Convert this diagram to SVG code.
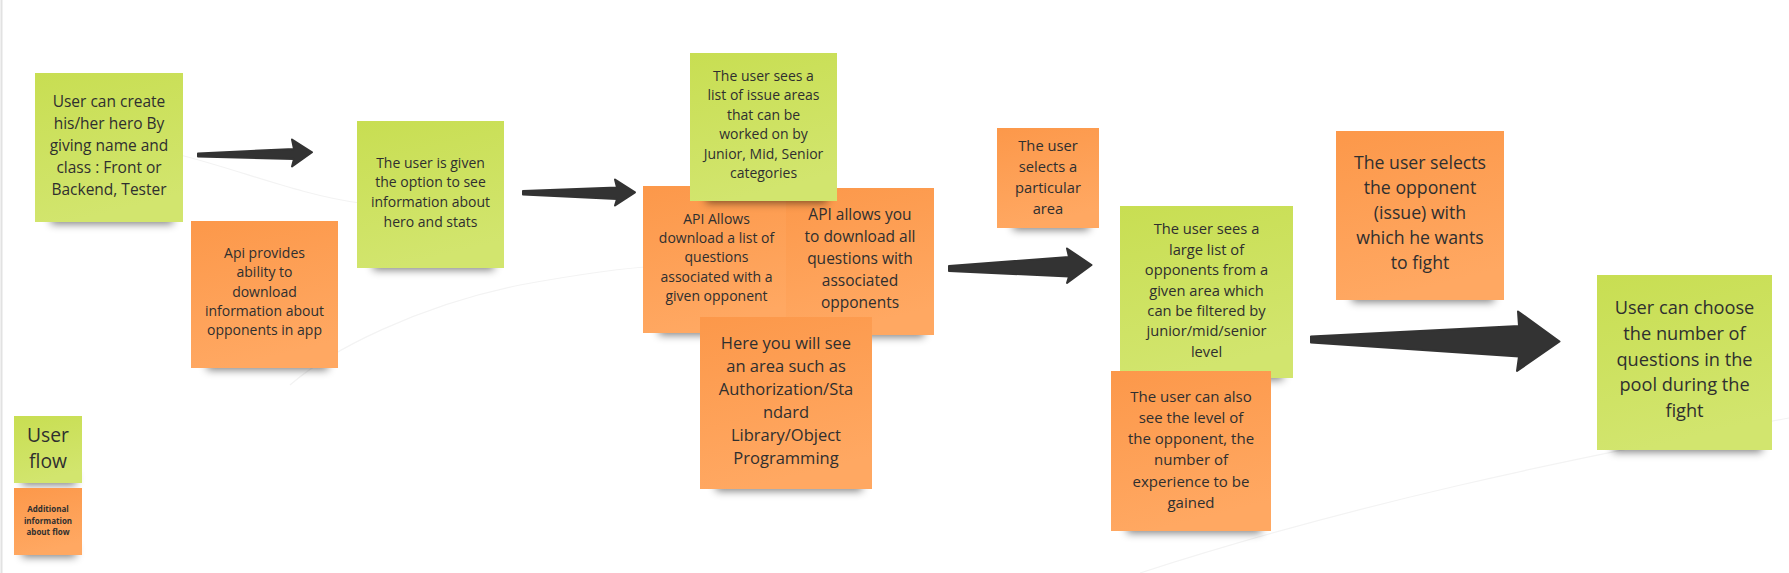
<svg xmlns="http://www.w3.org/2000/svg" width="1789" height="573" viewBox="0 0 1789 573">
<defs>
<linearGradient id="gG" x1="0" y1="0" x2="0.25" y2="1"><stop offset="0" stop-color="#c8de52"/><stop offset="1" stop-color="#d2e56e"/></linearGradient>
<linearGradient id="gO" x1="0" y1="0" x2="0.25" y2="1"><stop offset="0" stop-color="#fc984a"/><stop offset="1" stop-color="#ffa862"/></linearGradient>
<filter id="sh" x="-20%" y="-100%" width="140%" height="300%"><feGaussianBlur stdDeviation="4.5"/></filter>
<style>
.g{fill:url(#gG)}
.o{fill:url(#gO)}
.s{fill:#000;opacity:.5;filter:url(#sh)}
text{font-family:"Open Sans","Noto Sans","Liberation Sans",sans-serif;fill:#2f2f2f;text-anchor:middle}
.arr{fill:#333;stroke:#333;stroke-width:2;stroke-linejoin:round}
.bg{fill:none;stroke:#f3f3f3;stroke-width:1.2}
</style>
</defs>
<rect width="1789" height="573" fill="#fff"/>
<line x1="1.5" y1="0" x2="1.5" y2="573" stroke="#e2e2e2" stroke-width="2"/>
<g id="background-lines">
<path class="bg" d="M180 155 C240 170 300 195 360 203"/>
<path class="bg" d="M290 385 C330 350 420 305 520 285 C580 274 620 268 660 266"/>
<path class="bg" d="M1140 573 C1350 505 1560 460 1789 418"/>
</g>
<g id="connectors">
<path class="arr" d="M198 153.5 L294 149 L292 139.5 L312 152.3 L292 166.5 L294 159 L198 156.5 Z"/>
<path class="arr" d="M523 191 L617 187.5 L615 179.5 L635 192.3 L615 205.5 L617 199 L523 194.5 Z"/>
<path class="arr" d="M949 266 L1069 257 L1067 248.5 L1091.5 265 L1067 283 L1069 276.5 L949 271 Z"/>
<path class="arr" d="M1311 336.5 L1519 326 L1518 311.5 L1559.5 341.5 L1517 371 L1519 356.5 L1311 342.5 Z"/>
</g>
<g id="note-create-hero">
<rect class="s" x="51" y="208" width="122" height="16"/>
<rect class="g" x="35" y="73" width="148" height="149"/>
<text font-size="15.5"><tspan x="109" y="107.3">User can create</tspan><tspan x="109" y="129.1">his/her hero By</tspan><tspan x="109" y="150.9">giving name and</tspan><tspan x="109" y="172.7">class : Front or</tspan><tspan x="109" y="194.5">Backend, Tester</tspan></text>
</g>
<g id="note-api-opponents">
<rect class="s" x="207" y="354" width="121" height="16"/>
<rect class="o" x="191" y="221" width="147" height="147"/>
<text font-size="14"><tspan x="264.5" y="257.7">Api provides</tspan><tspan x="264.5" y="277.1">ability to</tspan><tspan x="264.5" y="296.5">download</tspan><tspan x="264.5" y="315.9">information about</tspan><tspan x="264.5" y="335.3">opponents in app</tspan></text>
</g>
<g id="note-hero-stats">
<rect class="s" x="373" y="254" width="121" height="16"/>
<rect class="g" x="357" y="121" width="147" height="147"/>
<text font-size="14"><tspan x="430.5" y="167.7">The user is given</tspan><tspan x="430.5" y="187.3">the option to see</tspan><tspan x="430.5" y="206.9">information about</tspan><tspan x="430.5" y="226.5">hero and stats</tspan></text>
</g>
<g id="note-api-questions">
<rect class="s" x="659" y="319" width="121" height="16"/>
<rect class="o" x="643" y="186" width="147" height="147"/>
<text font-size="14"><tspan x="716.5" y="223.7">API Allows</tspan><tspan x="716.5" y="243">download a list of</tspan><tspan x="716.5" y="262.3">questions</tspan><tspan x="716.5" y="281.6">associated with a</tspan><tspan x="716.5" y="300.9">given opponent</tspan></text>
</g>
<g id="note-api-all-questions">
<rect class="s" x="802" y="321" width="122" height="16"/>
<rect class="o" x="786" y="188" width="148" height="147"/>
<text font-size="15.5"><tspan x="860" y="220">API allows you</tspan><tspan x="860" y="242">to download all</tspan><tspan x="860" y="264">questions with</tspan><tspan x="860" y="286">associated</tspan><tspan x="860" y="308">opponents</tspan></text>
</g>
<g id="note-issue-areas">
<rect class="s" x="706" y="187" width="121" height="16"/>
<rect class="g" x="690" y="53" width="147" height="148"/>
<text font-size="14"><tspan x="763.5" y="80.7">The user sees a</tspan><tspan x="763.5" y="100.2">list of issue areas</tspan><tspan x="763.5" y="119.7">that can be</tspan><tspan x="763.5" y="139.2">worked on by</tspan><tspan x="763.5" y="158.7">Junior, Mid, Senior</tspan><tspan x="763.5" y="178.2">categories</tspan></text>
</g>
<g id="note-area-example">
<rect class="s" x="716" y="475" width="146" height="16"/>
<rect class="o" x="700" y="317" width="172" height="172"/>
<text font-size="16.5"><tspan x="786" y="348.7">Here you will see</tspan><tspan x="786" y="371.8">an area such as</tspan><tspan x="786" y="394.9">Authorization/Sta</tspan><tspan x="786" y="418">ndard</tspan><tspan x="786" y="441.1">Library/Object</tspan><tspan x="786" y="464.2">Programming</tspan></text>
</g>
<g id="note-select-area">
<rect class="s" x="1013" y="214" width="76" height="16"/>
<rect class="o" x="997" y="128" width="102" height="100"/>
<text font-size="14.7"><tspan x="1048" y="150.7">The user</tspan><tspan x="1048" y="171.7">selects a</tspan><tspan x="1048" y="192.7">particular</tspan><tspan x="1048" y="213.7">area</tspan></text>
</g>
<g id="note-opponents-list">
<rect class="s" x="1136" y="364" width="147" height="16"/>
<rect class="g" x="1120" y="206" width="173" height="172"/>
<text font-size="14.7"><tspan x="1206.5" y="234.3">The user sees a</tspan><tspan x="1206.5" y="254.7">large list of</tspan><tspan x="1206.5" y="275.1">opponents from a</tspan><tspan x="1206.5" y="295.5">given area which</tspan><tspan x="1206.5" y="315.9">can be filtered by</tspan><tspan x="1206.5" y="336.3">junior/mid/senior</tspan><tspan x="1206.5" y="356.7">level</tspan></text>
</g>
<g id="note-opponent-level">
<rect class="s" x="1127" y="517" width="134" height="16"/>
<rect class="o" x="1111" y="371" width="160" height="160"/>
<text font-size="15"><tspan x="1191" y="401.7">The user can also</tspan><tspan x="1191" y="422.9">see the level of</tspan><tspan x="1191" y="444.1">the opponent, the</tspan><tspan x="1191" y="465.3">number of</tspan><tspan x="1191" y="486.5">experience to be</tspan><tspan x="1191" y="507.7">gained</tspan></text>
</g>
<g id="note-select-opponent">
<rect class="s" x="1352" y="286" width="142" height="16"/>
<rect class="o" x="1336" y="131" width="168" height="169"/>
<text font-size="17.7"><tspan x="1420" y="168.7">The user selects</tspan><tspan x="1420" y="193.7">the opponent</tspan><tspan x="1420" y="218.7">(issue) with</tspan><tspan x="1420" y="243.7">which he wants</tspan><tspan x="1420" y="268.7">to fight</tspan></text>
</g>
<g id="note-question-count">
<rect class="s" x="1613" y="436" width="149" height="16"/>
<rect class="g" x="1597" y="275" width="175" height="175"/>
<text font-size="18.2"><tspan x="1684.5" y="314">User can choose</tspan><tspan x="1684.5" y="339.8">the number of</tspan><tspan x="1684.5" y="365.6">questions in the</tspan><tspan x="1684.5" y="391.4">pool during the</tspan><tspan x="1684.5" y="417.2">fight</tspan></text>
</g>
<g id="legend-user-flow">
<rect class="s" x="22" y="473" width="54" height="12"/>
<rect class="g" x="14" y="416" width="68" height="67"/>
<text font-size="19.3"><tspan x="48" y="441.7">User</tspan><tspan x="48" y="468.3">flow</tspan></text>
</g>
<g id="legend-additional-info">
<rect class="s" x="22" y="545" width="54" height="12"/>
<rect class="o" x="14" y="488" width="68" height="67"/>
<text font-size="8" font-weight="bold"><tspan x="48" y="511.7">Additional</tspan><tspan x="48" y="523.5">information</tspan><tspan x="48" y="535.3">about flow</tspan></text>
</g>
</svg>
